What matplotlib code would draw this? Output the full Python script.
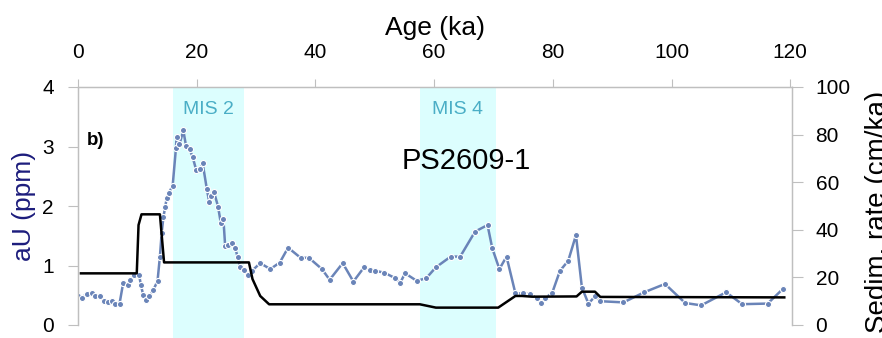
import matplotlib
matplotlib.use("Agg")
import matplotlib.pyplot as plt

plt.rcParams['font.family'] = ['Liberation Sans', 'DejaVu Sans']

# aU (ppm) record, PS2609-1
age_au = [0.05, 0.6, 1.5, 2.3, 2.9, 3.7, 4.3, 5.0, 5.7, 6.2, 7.0, 7.6, 8.5, 8.8, 9.4,
          10.3, 10.6, 11.0, 11.5, 12.0, 12.7, 13.4, 13.8, 14.1, 14.4, 14.7, 14.95, 15.3,
          15.95, 16.5, 16.6, 17.1, 17.75, 18.2, 18.8, 19.3, 19.9, 20.6, 21.0, 21.7, 22.1,
          22.4, 22.9, 23.6, 24.05, 24.5, 24.8, 25.3, 25.9, 26.5, 26.9, 27.3, 27.9, 28.6,
          29.3, 30.7, 32.4, 34.0, 35.4, 37.5, 38.9, 41.1, 42.4, 44.6, 46.4, 48.2, 49.2,
          50.1, 51.6, 53.4, 54.3, 55.1, 57.1, 58.7, 60.3, 62.8, 64.4, 66.9, 69.0, 69.8,
          71.0, 72.2, 73.7, 75.0, 76.2, 77.3, 78.0, 78.7, 79.9, 81.2, 82.6, 83.9, 84.9,
          86.0, 87.1, 88.0, 91.9, 95.4, 98.9, 102.3, 105.0, 109.2, 111.9, 116.2, 118.8]
au = [0.48, 0.46, 0.52, 0.53, 0.48, 0.49, 0.41, 0.39, 0.40, 0.36, 0.36, 0.70, 0.67, 0.76, 0.84,
      0.84, 0.67, 0.50, 0.42, 0.48, 0.59, 0.74, 1.15, 1.55, 1.82, 1.99, 2.13, 2.22,
      2.34, 2.97, 3.16, 3.04, 3.27, 3.01, 2.95, 2.83, 2.61, 2.63, 2.72, 2.29, 2.07,
      2.16, 2.24, 1.99, 1.72, 1.78, 1.32, 1.34, 1.38, 1.29, 1.14, 0.98, 0.92, 0.84,
      0.91, 1.04, 0.94, 1.05, 1.30, 1.13, 1.13, 0.94, 0.76, 1.04, 0.73, 0.97, 0.92,
      0.91, 0.88, 0.79, 0.71, 0.87, 0.74, 0.79, 0.97, 1.15, 1.15, 1.57, 1.68, 1.29,
      0.94, 1.15, 0.53, 0.53, 0.52, 0.45, 0.37, 0.45, 0.54, 0.91, 1.08, 1.51, 0.63,
      0.36, 0.48, 0.40, 0.38, 0.55, 0.69, 0.37, 0.33, 0.55, 0.35, 0.36, 0.61]

# Sedimentation rate (cm/ka)
age_sr = [0.5, 9.9, 10.2, 10.7, 13.8, 14.5, 28.8, 29.4, 30.7, 32.2, 57.6, 60.3, 70.8,
          73.7, 74.8, 76.5, 84.0, 84.9, 87.1, 88.0, 119.0]
sed_rate = [21.7, 21.7, 42.0, 46.5, 46.5, 26.3, 26.3, 19.3, 12.2, 8.7, 8.7, 7.3, 7.3,
            12.2, 12.2, 11.9, 12.0, 14.0, 14.0, 11.8, 11.6]

# Marine isotope stages
mis_labels = ['MIS 2', 'MIS 4']
mis_start = [16.0, 57.6]
mis_end = [28.0, 70.4]

x_ticks = [0, 20, 40, 60, 80, 100, 120]
y_ticks_au = [0, 1, 2, 3, 4]
y_ticks_sr = [0, 20, 40, 60, 80, 100]

fig = plt.figure(figsize=(8.82, 3.38), dpi=100)
ax = fig.add_axes([78 / 882, 1 - 325 / 338, (792 - 78) / 882, (325 - 87) / 338])
ax2 = ax.twinx()

spine_col = '#bfbfbf'
band_col = '#dcfefe'
mis_col = '#4aaec6'
au_col = '#6a84b8'

for s, e, lab in zip(mis_start, mis_end, mis_labels):
    ax.axvspan(s, e, ymin=-0.06, ymax=1.0, color=band_col, lw=0, zorder=0, clip_on=False)
    ax.text((s + e) / 2, 0.905, lab, transform=ax.get_xaxis_transform(), ha='center',
            va='center', fontsize=14, color=mis_col)

ax.plot(age_au, au, '-o', color=au_col, lw=1.8, ms=4.4, mfc=au_col, mec='white',
        mew=0.8, zorder=3)
ax2.plot(age_sr, sed_rate, '-', color='black', lw=1.8, zorder=4)

ax.set_xlim(0, 120.3)
ax.set_ylim(0, 4)
ax2.set_ylim(0, 100)

ax.xaxis.tick_top()
ax.xaxis.set_label_position('top')
ax.set_xticks(x_ticks)
ax.set_yticks(y_ticks_au)
ax2.set_yticks(y_ticks_sr)

ax.tick_params(axis='x', which='both', top=True, bottom=False, direction='out', length=6,
               width=0.8, color=spine_col, labelsize=15, pad=12)
ax.tick_params(axis='y', direction='out', length=7.5, width=0.8, color=spine_col,
               labelsize=15, pad=10)
ax2.tick_params(axis='y', direction='out', length=8, width=0.8, color=spine_col,
                labelsize=15, pad=9)

for a in (ax, ax2):
    a.spines['bottom'].set_visible(False)
    for side in ('top', 'left', 'right'):
        a.spines[side].set_color(spine_col)
        a.spines[side].set_linewidth(0.9)

ax.set_xlabel('Age (ka)', fontsize=19, labelpad=6)
ax.set_ylabel('aU (ppm)', fontsize=19, color='#1c1c7c', labelpad=4)
fig.text(865 / 882, 1 - 212 / 338, 'Sedim. rate (cm/ka)',
         rotation=90, ha='left', va='center', fontsize=20)

ax.text(0.013, 0.775, 'b)', transform=ax.transAxes, ha='left', va='center',
        fontsize=13.5, fontweight='bold')
ax.text(65.4, 0.689, 'PS2609-1', transform=ax.get_xaxis_transform(), ha='center',
        va='center', fontsize=21)

ax.set_zorder(1)
ax2.set_zorder(2)
ax.patch.set_visible(False)
ax2.patch.set_visible(False)

fig.savefig('out.png', dpi=100)
